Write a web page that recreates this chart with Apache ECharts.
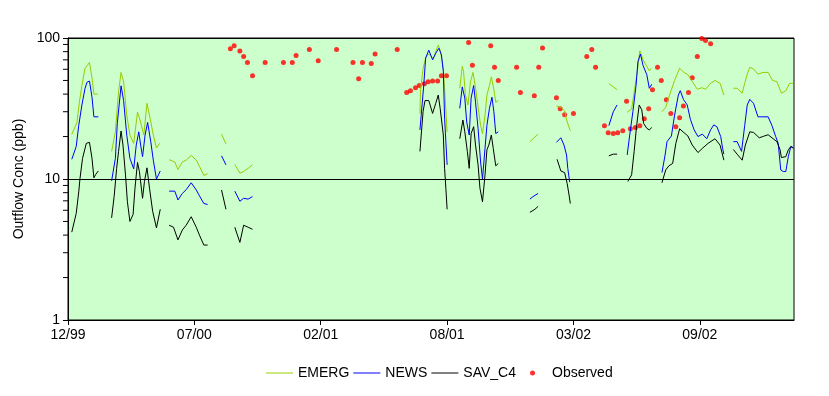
<!DOCTYPE html>
<html><head><meta charset="utf-8">
<script src="https://cdn.jsdelivr.net/npm/echarts@6/dist/echarts.min.js"></script>
<style>html,body{margin:0;padding:0;background:#fff}#c{width:829px;height:396px}</style>
</head><body><div id="c"></div>
<script>
// x values: days since 1999-12-30; x tick interval 200 days
const xTickLabels = ['12/99','07/00','02/01','08/01','03/02','09/02'];
const yMinorTicks = [2,3,4,5,6,7,8,9,20,30,40,50,60,70,80,90];

const emergDays = [6,14,18,22,27,34,38,41,47,null,
 69,75,80,84,88,93,98,104,110,114,120,125,130,135,140,145,null,
 160,169,174,181,187,195,203,208,215,221,null,243,250,null,264,272,278,285,292,null,
 557,558,562,566,570,574,578,582,586,589,594,596,600,null,
 620,624,626,629,633,637,641,645,649,653,656,660,663,667,670,674,677,681,null,
 731,744,null,773,781,786,790,795,null,856,869,null,
 885,892,897,901,905,910,916,920,923,null,
 940,946,952,960,968,975,981,988,996,1003,1009,1017,1024,1032,1038,null,
 1053,1059,1067,1071,1075,1079,1085,1092,1100,1108,1115,1122,1129,1136,1142,1148];
const emergVals = [20.8,25,35,46,61,67,52,40,40,null,
 15.7,21.6,41.6,57,49,28.4,20.5,17.9,29.8,26.2,20.5,34.4,26.9,20.5,16.6,17.9,null,
 13.7,13.2,11.7,13.2,13.6,14.7,13.6,12.3,10.6,10.9,null,20.8,17.7,null,12.7,11.0,11.3,11.9,12.6,null,
 29.2,43,61,72,77,75,71,80,89,82,61,44,21.6,null,
 44,63,58,39.4,33.5,49,57,44,32.6,24,21,28.4,39.4,46,53,43,35,36,null,
 18.4,20.8,null,33,32,30.4,25.4,22,null,47.5,43,null,
 29.8,31.3,44,58,81,70,63,58.5,61,null,
 30,32.2,39.4,50,61,57,55,49,43.3,44.4,43.3,47.7,50,47.7,39.4,null,
 44,44,40.6,47.7,55.4,62,60.3,55.4,57,57,50,49,40.6,42.2,47.7,47.7];

const newsDays = [6,13,17,22,27,30,34,38,41,48,null,
 69,75,78,84,88,93,98,104,108,112,115,118,122,126,131,135,140,146,null,
 160,169,174,181,187,195,203,208,215,221,null,243,250,null,264,272,278,285,292,null,
 557,559,563,566,571,577,582,587,591,594,596,600,null,
 620,624,628,631,635,638,642,645,649,653,656,660,663,667,671,674,677,681,null,
 731,736,744,null,773,780,785,789,791,794,null,856,863,869,null,
 885,889,894,899,902,906,910,916,920,924,null,
 940,945,948,955,960,966,969,974,980,985,991,997,1004,1011,1017,1022,1027,1033,1036,1038,null,
 1053,1059,1066,1071,1075,1079,1085,1092,1108,1114,1120,1124,1128,1132,1136,1140,1144,1148];
const newsVals = [13.8,17,24,33.5,44,48.5,49.5,38,27.6,27.6,null,
 9.7,14,24.8,45.8,36,20.5,14,11.8,17.4,21.6,17.4,14.4,20.5,25.2,18.4,13.6,10,11.4,null,
 8.2,8.2,7.1,7.9,8.4,9.4,8.35,7.6,6.7,6.6,null,14.6,12.6,null,8.2,6.95,7.3,7.2,7.5,null,
 22.3,28.4,46,72,82,70,78,84.6,76,58,27,12.6,null,
 31.7,45,37.5,25.4,20.5,37.5,46,35,22.9,13.2,10,16.5,24,31.7,38,30,21,21.6,null,
 7.2,7.5,7.9,null,18.2,19.6,17.4,14.8,11.9,9.5,null,23.9,30,33.5,null,
 14.8,20.5,30,46,68,77,64,55,44,47,null,
 11.1,14.8,18.4,20.2,28.4,39.4,42.3,36.7,33.5,26.5,22.3,20,20.8,19.3,22.3,24.2,23.5,20,16.5,15,null,
 18.4,18.4,15.7,24,33.5,36.7,34.4,27.6,27.6,24,20,17.9,11.6,11.3,11.3,14.4,17,16.7];

const savDays = [6,13,17,19,23,29,34,38,41,44,48,null,
 69,73,77,80,84,87,91,94,98,103,106,110,113,118,121,125,129,134,140,146,null,
 160,167,174,181,187,195,203,208,215,221,null,243,250,null,264,272,278,285,292,null,
 557,559,562,565,571,577,582,586,589,594,596,598,600,null,
 620,625,628,632,635,638,642,645,649,652,656,660,663,666,670,673,677,681,null,
 731,739,744,null,774,780,786,790,793,795,null,856,863,869,null,
 886,892,896,900,904,908,911,916,920,924,null,
 940,946,951,957,962,968,975,981,988,997,1004,1013,1024,1032,1038,null,
 1053,1059,1067,1072,1079,1085,1094,1101,1108,1116,1122,1127,1129,1136,1140,1144,1148];
const savVals = [4.2,5.7,8.1,10.1,14,17.9,18.2,14,10.2,10.8,11.4,null,
 5.3,7.5,11.9,15.7,21.9,17.4,10.7,6.9,5.0,5.6,8.6,13.1,11.3,7.3,9.6,12.0,8.6,5.9,4.5,6.1,null,
 4.7,4.55,3.7,4.35,4.7,5.4,4.55,4.0,3.4,3.4,null,8.35,6.1,null,4.55,3.55,4.7,4.55,4.4,null,
 15.7,20.5,30.2,36,36,29.2,34.4,39.4,31.7,20.5,11.9,8.6,6.1,null,
 19.3,26.2,21.6,15.7,11.9,21,23.5,17.4,12.6,8.6,6.9,10.7,16.1,17.4,20.5,16.5,12.4,12.9,null,
 5.8,6.1,6.4,null,13.8,11.4,11.1,9.3,7.7,6.7,null,14.6,15,15,null,
 9.6,10.7,15.7,24,33.5,31,24.8,22.9,22.3,23.2,null,
 9.4,11.6,12.4,12.9,17.9,22.7,21.3,20.2,17.4,15.4,16.5,17.9,19.3,17.4,13.6,null,
 16.2,15,13.6,17.4,21.6,21.4,19.6,20.1,20.6,19.3,18.4,16.1,14.2,14.4,16.1,17,16.5];

const obsDays = [257,263,272,278,284,292,312,341,355,361,382,396,425,451,460,466,480,486,
 521,536,542,550,556,564,570,577,585,591,599,634,640,669,675,681,710,716,738,745,751,
 773,779,786,800,821,829,835,849,855,863,870,878,884,890,898,905,912,919,925,
 933,939,947,954,962,968,974,982,988,996,1003,1009,1017];
const obsVals = [84,88,81,74,67,54,67,67,67,75,83,69,83,67,51.5,67,66,77,
 83,41,42.3,44.4,46,47.4,49,49.6,49.6,54,54,93,64,88,62,50,62,41,39,62,85,
 37.7,31.5,28.6,29.1,74,83,62,23.9,21.3,21.0,21.3,22,35.6,22.7,23.2,23.9,26.8,31.5,43,
 62,50,36.5,29.1,23.5,27.2,33,41,52.3,74,99,96,91];

function pairs(d, v){ return d.map((x,i)=> x==null ? ['-','-'] : [x, v[i]]); }

const FONT = 'Liberation Sans, Arial, sans-serif';
const FS = 14;
const XMAX = 1149, XINT = 200;
const LINE_ICON = 'path://M0 0H27V1H0Z';
const legendText = {color:'#000', fontSize:FS, fontFamily:FONT};
const chart = echarts.init(document.getElementById('c'), null, {renderer:'canvas'});
chart.setOption({
  animation:false,
  backgroundColor:'#fff',
  grid:{left:68, right:35, top:38, bottom:76, show:true, backgroundColor:'#CCFFCC', borderColor:'#000', borderWidth:1},
  xAxis:{type:'value', min:0, max:XMAX, interval:XINT,
    axisLine:{lineStyle:{color:'#000'}}, axisTick:{length:5, lineStyle:{color:'#000'}},
    splitLine:{show:false},
    axisLabel:{color:'#000', fontSize:FS, fontFamily:FONT, margin:8, showMaxLabel:false,
      formatter:v=>{const i=v/XINT; return Number.isInteger(i)&&xTickLabels[i]?xTickLabels[i]:'';}}},
  yAxis:{type:'log', logBase:10, min:1, max:100,
    name:'Outflow Conc (ppb)', nameLocation:'middle', nameGap:39, nameRotate:90,
    nameTextStyle:{color:'#000', fontSize:FS, fontFamily:FONT},
    axisLine:{show:true, lineStyle:{color:'#000'}}, axisTick:{length:5, lineStyle:{color:'#000'}},
    splitLine:{show:true, lineStyle:{color:'#000', width:1}},
    axisLabel:{color:'#000', fontSize:FS, fontFamily:FONT, margin:8}},
  legend:[
    {left:266, top:366, padding:0, itemWidth:27, itemHeight:5, itemGap:4, textStyle:legendText,
     data:[{name:'EMERG', icon:LINE_ICON},{name:'NEWS', icon:LINE_ICON},{name:'SAV_C4', icon:LINE_ICON}]},
    {left:530, top:366, padding:0, itemWidth:5, itemHeight:5, textStyle:Object.assign({padding:[0,0,0,12]}, legendText),
     data:[{name:'Observed', icon:'circle'}]}
  ],
  series:[
    {name:'EMERG', type:'line', symbol:'none', data:pairs(emergDays, emergVals), connectNulls:false,
     lineStyle:{color:'#99CC00', width:1}, itemStyle:{color:'#99CC00'}},
    {name:'NEWS', type:'line', symbol:'none', data:pairs(newsDays, newsVals), connectNulls:false,
     lineStyle:{color:'#0000FF', width:1}, itemStyle:{color:'#0000FF'}},
    {name:'SAV_C4', type:'line', symbol:'none', data:pairs(savDays, savVals), connectNulls:false,
     lineStyle:{color:'#000000', width:1}, itemStyle:{color:'#000000'}},
    {name:'Observed', type:'scatter', symbol:'circle', symbolSize:5, data:pairs(obsDays, obsVals),
     itemStyle:{color:'#FF0000'}},
    {name:'minorTicks', type:'custom', silent:true, clip:false,
     data:yMinorTicks.map(v=>[0,v]),
     renderItem:(params, api)=>{const p=api.coord([0, api.value(1)]);
       return {type:'line', shape:{x1:p[0]-5, y1:p[1], x2:p[0], y2:p[1]}, style:{stroke:'#000', lineWidth:1}};}}
  ]
});
</script></body></html>
